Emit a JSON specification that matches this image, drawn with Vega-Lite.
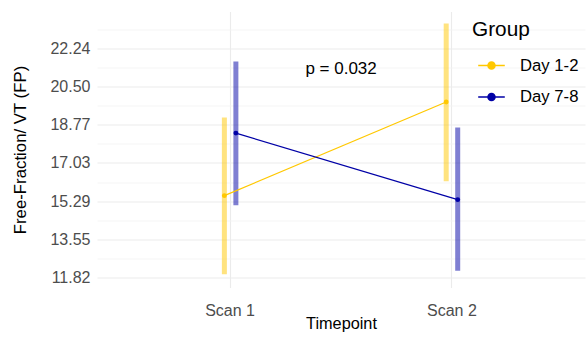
{
  "$schema": "https://vega.github.io/schema/vega-lite/v6.json",
  "width": 488,
  "height": 276,
  "autosize": {"type": "none"},
  "padding": {"left": 97, "top": 11.5, "right": 2, "bottom": 50.5},
  "background": "white",
  "config": {
    "view": {"stroke": null},
    "font": "Liberation Sans"
  },
  "data": {
    "values": [
      {"Timepoint": "Scan 1", "Group": "Day 1-2", "mean": 15.54, "lower": 11.97, "upper": 19.09},
      {"Timepoint": "Scan 1", "Group": "Day 7-8", "mean": 18.385, "lower": 15.11, "upper": 21.64},
      {"Timepoint": "Scan 2", "Group": "Day 1-2", "mean": 19.80, "lower": 16.20, "upper": 23.37},
      {"Timepoint": "Scan 2", "Group": "Day 7-8", "mean": 15.36, "lower": 12.13, "upper": 18.64}
    ]
  },
  "encoding": {
    "x": {
      "field": "Timepoint",
      "type": "nominal",
      "scale": {"type": "band", "paddingInner": 0, "paddingOuter": 0.1},
      "axis": {
        "title": "Timepoint",
        "labelAngle": 0,
        "grid": true,
        "gridColor": "#EBEBEB",
        "gridWidth": 1.1,
        "bandPosition": 0.5,
        "domain": false,
        "ticks": false,
        "tickSize": 0,
        "labelFontSize": 16,
        "labelColor": "#4D4D4D",
        "labelPadding": 15,
        "titleFontSize": 16.3,
        "titleColor": "black",
        "titleFontWeight": "normal",
        "titlePadding": -3
      }
    }
  },
  "layer": [
    {
      "mark": {"type": "rule", "strokeWidth": 5, "opacity": 0.5},
      "encoding": {
        "xOffset": {"field": "Group", "scale": {"type": "point", "padding": 0, "range": [105.2, 116.7]}},
        "color": {"field": "Group", "type": "nominal"},
        "y": {
          "field": "lower",
          "type": "quantitative",
          "scale": {"domain": [11.365, 23.914], "nice": false, "zero": false},
          "axis": {
            "orient": "left",
            "values": [12.685, 14.42, 16.16, 17.9, 19.635, 21.37, 23.105],
            "labels": false,
            "ticks": false,
            "tickSize": 0,
            "domain": false,
            "title": null,
            "grid": true,
            "gridColor": "#F2F2F2",
            "gridWidth": 0.8,
            "minExtent": 0,
            "maxExtent": 0
          }
        },
        "y2": {"field": "upper"}
      }
    },
    {
      "mark": {"type": "line", "strokeWidth": 1.2},
      "encoding": {
        "xOffset": {"field": "Group", "scale": {"type": "point", "padding": 0, "range": [105.2, 116.7]}},
        "color": {
          "field": "Group",
          "type": "nominal",
          "scale": {"domain": ["Day 1-2", "Day 7-8"], "range": ["#FFC800", "#0000A6"]},
          "legend": {
            "orient": "none",
            "legendX": 375,
            "legendY": 8.8,
            "title": "Group",
            "titleFontSize": 20.8,
            "titleFontWeight": "normal",
            "titleColor": "black",
            "titlePadding": 10,
            "labelFontSize": 16.7,
            "labelColor": "black",
            "labelOffset": 14,
            "rowPadding": 7.4,
            "symbolOffset": 5,
            "symbolSize": 707,
            "symbolType": "M-1,0L1,0M0.265,0A0.265,0.265,0,1,1,-0.265,0A0.265,0.265,0,1,1,0.265,0Z",
            "symbolStrokeWidth": 1.5,
            "symbolOpacity": 1,
            "encode": {
              "symbols": {
                "update": {
                  "fill": {"scale": "color", "field": "value"},
                  "stroke": {"scale": "color", "field": "value"},
                  "strokeWidth": {"value": 1.5},
                  "opacity": {"value": 1},
                  "fillOpacity": {"value": 1},
                  "strokeOpacity": {"value": 1}
                }
              }
            }
          }
        },
        "y": {
          "field": "mean",
          "type": "quantitative",
          "axis": {
            "orient": "left",
            "title": "Free-Fraction/ VT (FP)",
            "values": [11.82, 13.55, 15.29, 17.03, 18.77, 20.5, 22.24],
            "format": ".2f",
            "grid": true,
            "gridColor": "#EBEBEB",
            "gridWidth": 1.1,
            "domain": false,
            "ticks": false,
            "tickSize": 0,
            "labelFontSize": 16,
            "labelColor": "#4D4D4D",
            "labelPadding": 7,
            "titleFontSize": 16.8,
            "titleColor": "black",
            "titleFontWeight": "normal",
            "titlePadding": 20
          }
        }
      }
    },
    {
      "mark": {"type": "circle", "size": 24, "opacity": 1},
      "encoding": {
        "xOffset": {"field": "Group", "scale": {"type": "point", "padding": 0, "range": [105.2, 116.7]}},
        "color": {"field": "Group", "type": "nominal"},
        "y": {"field": "mean", "type": "quantitative", "axis": null}
      }
    },
    {
      "data": {"values": [{"Timepoint": "Scan 1", "label": "p = 0.032", "ypos": 21.31}]},
      "mark": {"type": "text", "dx": 111, "fontSize": 17, "color": "black", "baseline": "middle", "align": "center"},
      "encoding": {
        "y": {"field": "ypos", "type": "quantitative", "axis": null},
        "text": {"field": "label"}
      }
    }
  ],
  "resolve": {"axis": {"y": "independent"}}
}
